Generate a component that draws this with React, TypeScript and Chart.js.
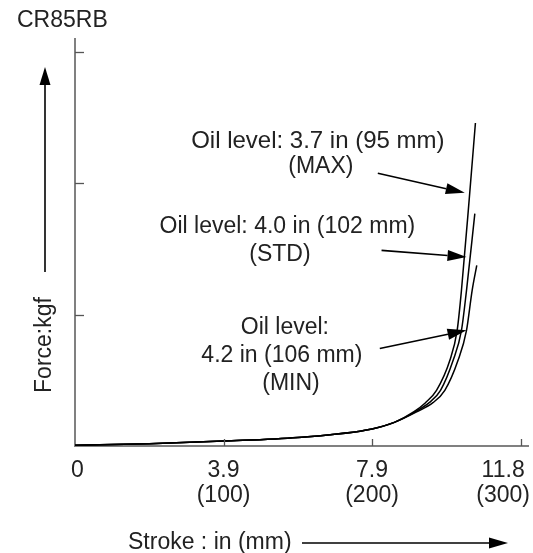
import React, { useEffect, useRef } from 'react';
import { Chart, registerables } from 'chart.js';

Chart.register(...registerables);

// Stroke in mm, force in relative kgf units (no numeric scale shown on the original)
const maxStroke = [0, 50, 100, 150, 200, 215, 228, 236, 243.4, 252.4, 257.3, 260.2, 265.8, 269.6];
const maxForce = [0.005, 0.018, 0.038, 0.065, 0.13, 0.18, 0.26, 0.33, 0.424, 0.653, 0.881, 1.186, 1.932, 2.46];
const stdStroke = [0, 50, 100, 150, 200, 215, 229, 238.5, 246.1, 254.6, 260.2, 263.6, 269.2];
const stdForce = [0.005, 0.018, 0.038, 0.065, 0.13, 0.18, 0.26, 0.33, 0.424, 0.653, 0.881, 1.186, 1.77];
const minStroke = [0, 50, 100, 150, 200, 215, 230, 241, 249.0, 257.9, 263.6, 267.4, 270.5];
const minForce = [0.005, 0.018, 0.038, 0.065, 0.13, 0.18, 0.26, 0.33, 0.424, 0.653, 0.881, 1.186, 1.376];

const xTickValues = [0, 100, 200, 300];
const xTickInch = ['0', '3.9', '7.9', '11.8'];
const xTickMm = ['', '(100)', '(200)', '(300)'];
const yTickValues = [1, 2, 3];

const chartTitle = 'CR85RB';
const xAxisTitle = 'Stroke : in (mm)';
const yAxisTitle = 'Force:kgf';

const maxLabel = ['Oil level: 3.7 in (95 mm)', '(MAX)'];
const stdLabel = ['Oil level: 4.0 in (102 mm)', '(STD)'];
const minLabel = ['Oil level:', '4.2 in (106 mm)', '(MIN)'];

const FAMILY = '"Liberation Sans", Arial, Helvetica, sans-serif';
const FONT = '23px ' + FAMILY;
const WIDE_FONT = '24px ' + FAMILY;
const TEXT = '#222';
const AXIS = '#808080';

function arrow(ctx: CanvasRenderingContext2D, x1: number, y1: number, x2: number, y2: number, len = 19, hw = 5.5) {
  const a = Math.atan2(y2 - y1, x2 - x1);
  const bx = x2 - Math.cos(a) * len;
  const by = y2 - Math.sin(a) * len;
  ctx.save();
  ctx.strokeStyle = '#000';
  ctx.fillStyle = '#000';
  ctx.lineWidth = 1.6;
  ctx.beginPath();
  ctx.moveTo(x1, y1);
  ctx.lineTo(bx, by);
  ctx.stroke();
  ctx.beginPath();
  ctx.moveTo(x2, y2);
  ctx.lineTo(bx + Math.sin(a) * hw, by - Math.cos(a) * hw);
  ctx.lineTo(bx - Math.sin(a) * hw, by + Math.cos(a) * hw);
  ctx.closePath();
  ctx.fill();
  ctx.restore();
}

const decorPlugin = {
  id: 'decor',
  afterDraw(chart: any) {
    const ctx: CanvasRenderingContext2D = chart.ctx;
    const xs = chart.scales.x;
    const ys = chart.scales.y;
    const X = (v: number) => xs.getPixelForValue(v);
    const Y = (v: number) => ys.getPixelForValue(v);
    const bottom = Y(0);
    const left = X(0);

    ctx.save();
    // inner tick marks
    ctx.strokeStyle = '#555';
    ctx.lineWidth = 1.3;
    xTickValues.forEach((v) => {
      if (v === 0) return;
      const px = Math.round(X(v)) + 0.5;
      ctx.beginPath();
      ctx.moveTo(px, bottom);
      ctx.lineTo(px, bottom - 7);
      ctx.stroke();
    });
    yTickValues.forEach((v) => {
      const py = Math.round(Y(v)) + 0.5;
      ctx.beginPath();
      ctx.moveTo(left, py);
      ctx.lineTo(left + 9, py);
      ctx.stroke();
    });

    // x tick labels
    ctx.font = FONT;
    ctx.fillStyle = TEXT;
    ctx.textBaseline = 'middle';
    ctx.textAlign = 'center';
    xTickValues.forEach((v, i) => {
      let cx = X(v);
      const w = Math.max(ctx.measureText(xTickInch[i]).width, ctx.measureText(xTickMm[i]).width);
      if (cx + w / 2 > 530) cx = 530 - w / 2;
      if (v === 0) cx += 2.5;
      ctx.fillText(xTickInch[i], cx, bottom + 25);
      if (xTickMm[i]) ctx.fillText(xTickMm[i], cx, bottom + 50);
    });

    // title
    ctx.textAlign = 'left';
    ctx.fillText(chartTitle, 17, 21);

    // x axis title with arrow
    ctx.fillText(xAxisTitle, 128, 543);
    arrow(ctx, 302, 543, 508, 543);

    // y axis title with arrow
    ctx.save();
    ctx.translate(45, 345);
    ctx.rotate(-Math.PI / 2);
    ctx.textAlign = 'center';
    ctx.fillText(yAxisTitle, 0, 0);
    ctx.restore();
    arrow(ctx, 45, 272, 45, 67, 18, 5.5);

    // annotations
    ctx.textAlign = 'center';
    ctx.font = WIDE_FONT;
    ctx.fillText(maxLabel[0], X(163.5), Y(2.321));
    ctx.font = FONT;
    ctx.fillText(maxLabel[1], X(165.5), Y(2.13));
    arrow(ctx, X(203.9), Y(2.077), X(262.4), Y(1.928));

    ctx.fillText(stdLabel[0], X(143.0), Y(1.673));
    ctx.fillText(stdLabel[1], X(138.0), Y(1.46));
    arrow(ctx, X(206.4), Y(1.49), X(263.6), Y(1.44));

    ctx.fillText(minLabel[0], X(141.3), Y(0.904));
    ctx.fillText(minLabel[1], X(139.3), Y(0.691));
    ctx.fillText(minLabel[2], X(145.4), Y(0.478));
    arrow(ctx, X(205.2), Y(0.742), X(263.6), Y(0.881));

    ctx.restore();
  },
};

function toPoints(xs: number[], ys: number[]) {
  return xs.map((x, i) => ({ x, y: ys[i] }));
}

export default function App() {
  const ref = useRef<HTMLCanvasElement | null>(null);

  useEffect(() => {
    if (!ref.current) return;
    const lineStyle = {
      borderColor: '#000',
      borderWidth: 1.5,
      pointRadius: 0,
      fill: false,
      cubicInterpolationMode: 'monotone' as const,
    };
    const chart = new Chart(ref.current, {
      type: 'line',
      data: {
        datasets: [
          { label: 'MAX', data: toPoints(maxStroke, maxForce), ...lineStyle },
          { label: 'STD', data: toPoints(stdStroke, stdForce), ...lineStyle },
          { label: 'MIN', data: toPoints(minStroke, minForce), ...lineStyle },
        ],
      },
      options: {
        animation: false,
        responsive: false,
        events: [],
        layout: { padding: { left: 75, top: 39, right: 5, bottom: 107 } },
        plugins: { legend: { display: false }, tooltip: { enabled: false }, title: { display: false } },
        scales: {
          x: {
            type: 'linear',
            min: 0,
            max: 305,
            ticks: { display: false },
            grid: { drawOnChartArea: false, drawTicks: false },
            border: { display: true, color: AXIS, width: 2 },
          },
          y: {
            type: 'linear',
            min: 0,
            max: 3.1,
            ticks: { display: false },
            grid: { drawOnChartArea: false, drawTicks: false },
            border: { display: true, color: AXIS, width: 2 },
          },
        },
      },
      plugins: [decorPlugin],
    });
    return () => chart.destroy();
  }, []);

  return (
    <div style={{ position: 'absolute', left: 0, top: 0, width: 533, height: 553, background: '#fff' }}>
      <canvas ref={ref} width={533} height={553} style={{ display: 'block', width: 533, height: 553 }} />
    </div>
  );
}
